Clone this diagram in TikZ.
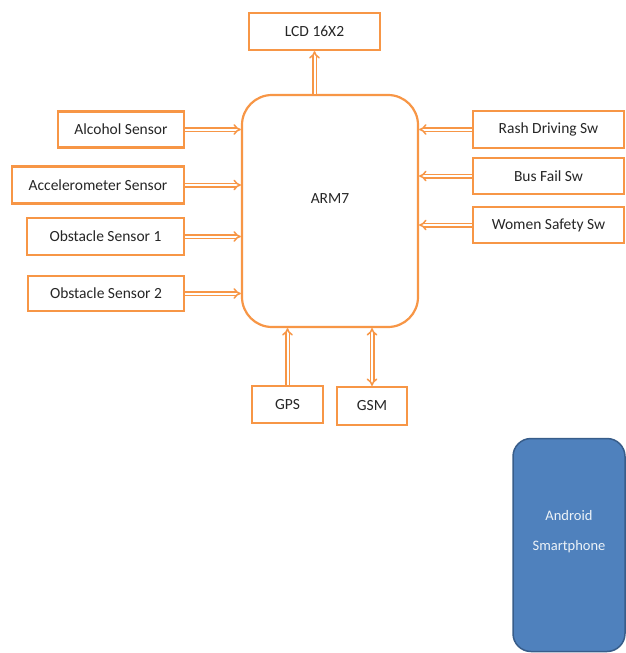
\documentclass[tikz,border=0pt]{standalone}
\usepackage{fontspec}
\setmainfont{Carlito}
\usetikzlibrary{arrows.meta}
\definecolor{orng}{HTML}{F79646}
\definecolor{phblue}{HTML}{4F81BD}
\definecolor{phedge}{HTML}{385D8A}
\begin{document}
\begin{tikzpicture}[x=1pt,y=-1pt,
  blk/.style={draw=orng,line width=2.2pt,fill=white,text=black!85,inner sep=0pt,
    font=\fontsize{15.5}{18}\selectfont},
  dbl/.style={draw=orng,double=white,double distance=2pt,line width=1.5pt,-{Implies}}]
\useasboundingbox (0,0) rectangle (626,653);
%controller
\node[blk,rounded corners=30pt,minimum width=176pt,minimum height=232pt,
  label={[text=black!85,font=\fontsize{15.5}{18}\selectfont,yshift=12pt]center:ARM7}] (arm) at (330,211) {};
\node[blk,minimum width=131pt,minimum height=37pt] (lcd) at (314.5,31.5) {LCD 16X2};
%sensors
\node[blk,minimum width=126pt,minimum height=36pt] (alc) at (121,129.5) {Alcohol Sensor};
\node[blk,minimum width=172pt,minimum height=37pt] (acc) at (98,185) {Accelerometer Sensor};
\node[blk,minimum width=157pt,minimum height=37pt] (obs1) at (105.5,236.5) {Obstacle Sensor 1};
\node[blk,minimum width=156pt,minimum height=35pt] (obs2) at (106,293.5) {Obstacle Sensor 2};
%switches
\node[blk,minimum width=151pt,minimum height=37pt] (rash) at (548.5,129.5) {Rash Driving Sw};
\node[blk,minimum width=151pt,minimum height=36pt] (bus) at (548.5,176) {Bus Fail Sw};
\node[blk,minimum width=151pt,minimum height=36pt] (women) at (548.5,225) {Women Safety Sw};
%modules
\node[blk,minimum width=71pt,minimum height=37pt] (gps) at (287.5,404.5) {GPS};
\node[blk,minimum width=70pt,minimum height=38pt] (gsm) at (372,406) {GSM};
\node[draw=phedge,fill=phblue,line width=1.5pt,rounded corners=18pt,minimum width=112pt,minimum height=213pt,
  label={[text=white!90!phblue,align=center,font=\fontsize{14.5}{30}\selectfont,yshift=13pt]center:Android\\Smartphone}] (phone) at (569,545) {};
%arrows
\foreach \n in {alc,acc,obs1,obs2} \draw[dbl] (\n.east) -- (\n.east -| arm.west);
\foreach \n in {rash,bus,women} \draw[dbl] (\n.west) -- (\n.west -| arm.east);
\draw[dbl] (lcd.south |- arm.north) -- (lcd.south);
\draw[dbl] (gps.north) -- (gps.north |- arm.south);
\draw[dbl,{Implies}-{Implies}] (gsm.north) -- (gsm.north |- arm.south);
\end{tikzpicture}
\end{document}
